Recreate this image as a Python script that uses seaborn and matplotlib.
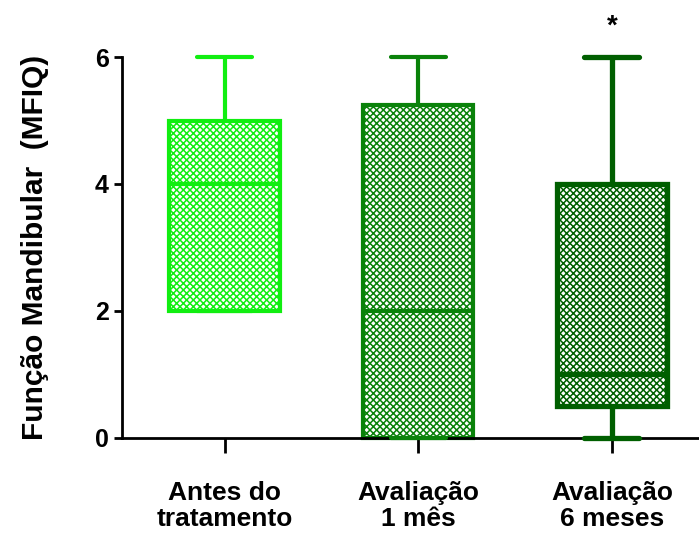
import matplotlib
matplotlib.use("Agg")
import matplotlib.pyplot as plt
import seaborn as sns
import pandas as pd

# five-number summaries (min, q1, median, q3, max)
groups = ["Antes do\ntratamento", "Avaliação\n1 mês", "Avaliação\n6 meses"]
mins = [2, 0, 0]
q1s = [2, 0, 0.5]
medians = [4, 2, 1]
q3s = [5, 5.25, 4]
maxs = [6, 6, 6]
colors = ["#11ee11", "#0a820a", "#005f00"]
line_widths = [3.0, 3.0, 3.8]

rows = []
for g, a, b, c, d, e in zip(groups, mins, q1s, medians, q3s, maxs):
    for v in (a, b, c, d, e):
        rows.append({"grupo": g, "valor": v})
df = pd.DataFrame(rows)

sns.set_style("white")
plt.rcParams["font.family"] = ["Liberation Sans", "DejaVu Sans"]
plt.rcParams["hatch.linewidth"] = 1.1

fig = plt.figure(figsize=(6.99, 5.38), dpi=100)
ax = fig.add_axes([0.1745, 0.186, 0.8255, 0.708])

sns.boxplot(data=df, x="grupo", y="valor", order=groups, whis=(0, 100),
            width=0.57, ax=ax, showfliers=False, color="white")

# restyle each box with its own colour and a checker hatch
for i, patch in enumerate(ax.patches):
    patch.set_facecolor("white")
    patch.set_edgecolor(colors[i])
    patch.set_hatch("xxxxx")
    patch.set_linewidth(line_widths[i])
    patch.set_clip_on(False)

lines = ax.lines
per = len(lines) // len(groups)
for i in range(len(groups)):
    for ln in lines[i * per:(i + 1) * per]:
        ln.set_color(colors[i])
        ln.set_linewidth(line_widths[i])
        ln.set_clip_on(False)
        ln.set_zorder(5)

ax.text(2, 6.48, "*", ha="center", va="center", fontsize=20, fontweight="bold",
        color="black")

ax.set_ylim(0, 6)
ax.set_xlim(-0.53, 2.45)
ax.set_yticks([0, 2, 4, 6])
ax.set_xlabel("")
ax.set_ylabel("Função Mandibular  (MFIQ)", fontsize=21.5, fontweight="bold",
              labelpad=33, color="black")

for s in ["top", "right"]:
    ax.spines[s].set_visible(False)
for s in ["left", "bottom"]:
    ax.spines[s].set_linewidth(2)
    ax.spines[s].set_color("black")

ax.tick_params(axis="y", direction="out", length=6, width=2, labelsize=18,
               left=True, colors="black")
ax.tick_params(axis="x", direction="out", length=11, width=2, labelsize=19,
               bottom=True, pad=20, colors="black")
for lab in ax.get_xticklabels() + ax.get_yticklabels():
    lab.set_fontweight("bold")
    lab.set_linespacing(1.1)

fig.savefig("out.png", dpi=100)
